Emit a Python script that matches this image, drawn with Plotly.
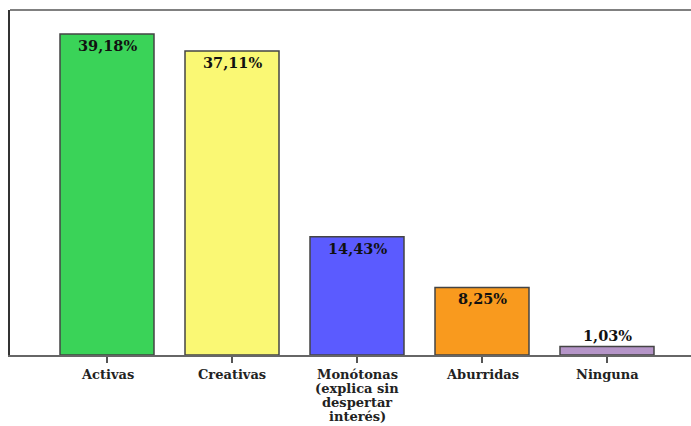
import plotly.graph_objects as go

categories = ["Activas", "Creativas", "Monótonas\n(explica sin\ndespertar\ninterés)", "Aburridas", "Ninguna"]
values = [39.18, 37.11, 14.43, 8.25, 1.03]
labels = ["39,18%", "37,11%", "14,43%", "8,25%", "1,03%"]
colors = ["#3AD358", "#FAF874", "#5B5BFF", "#F99A1E", "#B595C8"]

positions = list(range(len(categories)))
serif = "DejaVu Serif, Liberation Serif, serif"

fig = go.Figure(
    go.Bar(
        x=positions,
        y=values,
        width=0.752,
        marker=dict(color=colors, line=dict(color="#444444", width=1.5)),
        hoverinfo="skip",
    )
)

# value labels: inside the top of tall bars, above the short ones
for xi, v, t in zip(positions, values, labels):
    inside = v > 5
    fig.add_annotation(
        x=xi, y=v, text=t, showarrow=False,
        yanchor="top" if inside else "bottom",
        yshift=-1 if inside else 1,
        font=dict(family=serif, size=14.5, color="#111111", weight="bold"),
    )

# category labels, one annotation per line for tight line spacing
for xi, cat in zip(positions, categories):
    for i, line in enumerate(cat.split("\n")):
        fig.add_annotation(
            x=xi, xref="x", y=0, yref="paper", text=line, showarrow=False,
            yanchor="middle", yshift=-(19 + 14.3 * i), borderpad=0,
            font=dict(family=serif, size=13, color="#222222", weight="bold"),
        )

# top frame line
fig.add_shape(type="line", xref="paper", yref="paper", x0=0, x1=1, y0=1, y1=1,
              line=dict(color="#808080", width=2))

fig.update_layout(
    width=691, height=426,
    margin=dict(l=10, r=0, t=10, b=71),
    paper_bgcolor="white", plot_bgcolor="white",
    showlegend=False,
    xaxis=dict(
        range=[-0.776, 4.672],
        tickvals=positions, showticklabels=False,
        ticks="outside", ticklen=6, tickwidth=2, tickcolor="#555555",
        showline=True, linecolor="#666666", linewidth=2,
        showgrid=False, zeroline=False, automargin=False,
    ),
    yaxis=dict(
        range=[0, 42.11],
        showticklabels=False, ticks="",
        showline=True, linecolor="#333333", linewidth=2,
        showgrid=False, zeroline=False, automargin=False,
    ),
)

fig.write_html("out.html")
